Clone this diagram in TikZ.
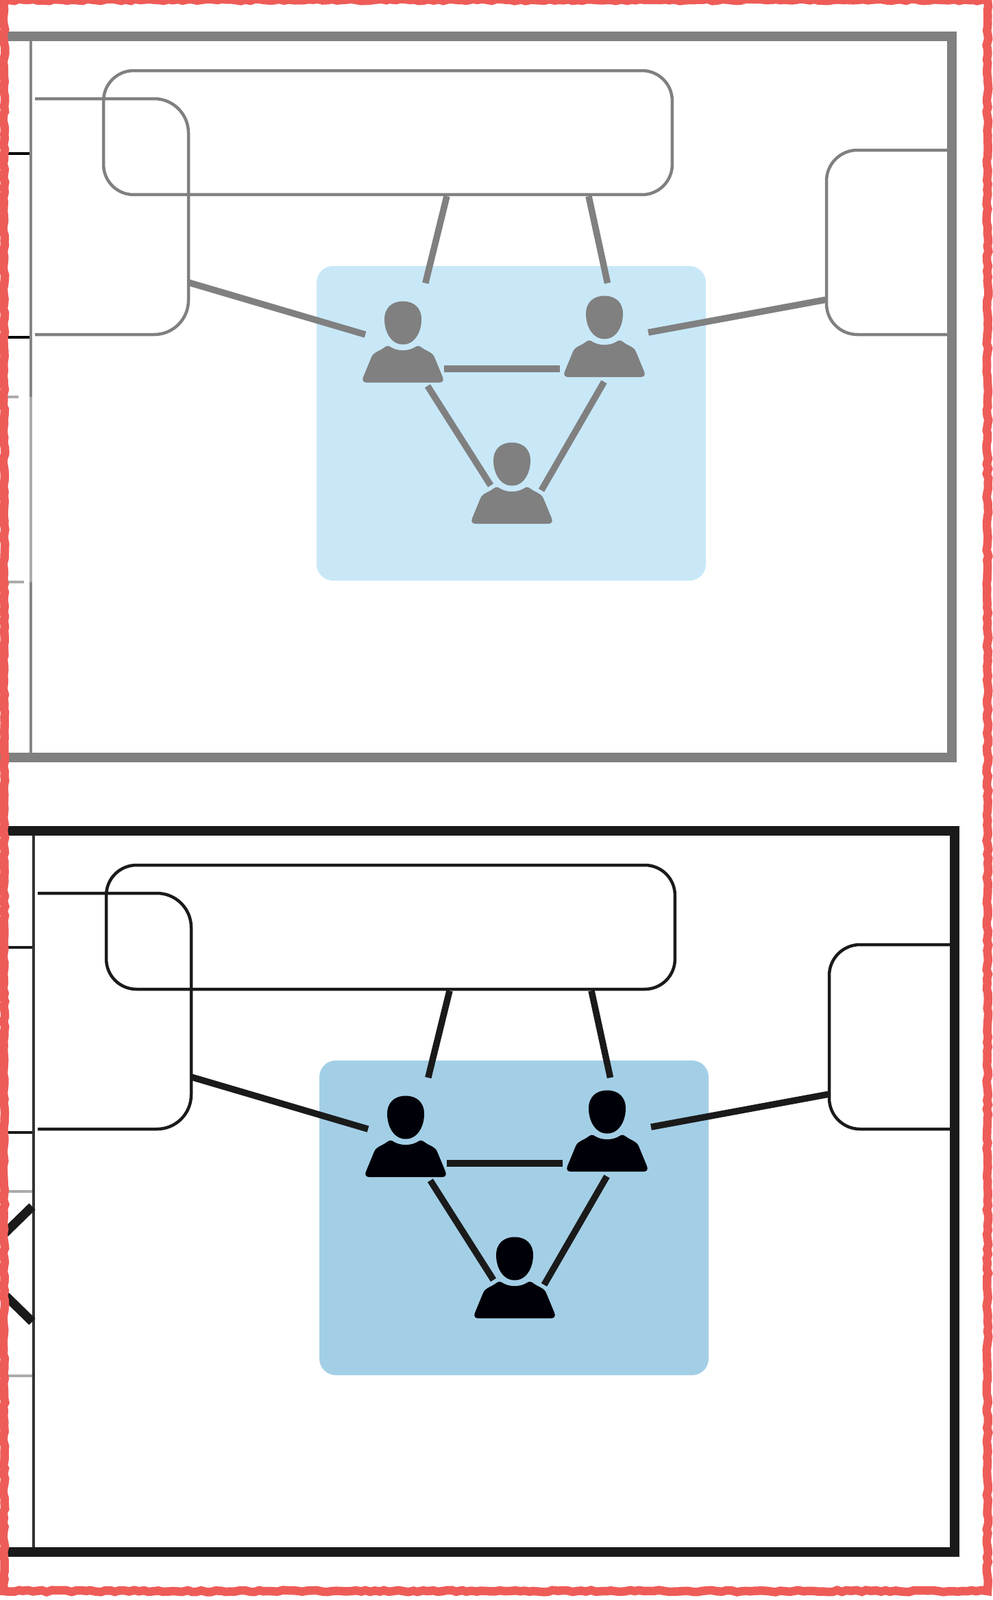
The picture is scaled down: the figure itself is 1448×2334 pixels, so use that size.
\documentclass[tikz,border=0pt]{standalone}
\usepackage{xcolor}
\usetikzlibrary{calc,decorations.pathmorphing}
\definecolor{inkgray}{HTML}{808080}
\definecolor{inkblack}{HTML}{1A1A1A}
\definecolor{wallgray}{HTML}{858585}
\definecolor{wallblack}{HTML}{333333}
\definecolor{icongray}{HTML}{808080}
\definecolor{iconblack}{HTML}{000008}
\definecolor{paleblue}{HTML}{C8E8F8}
\definecolor{midblue}{HTML}{A3CFE6}
\definecolor{fadegray}{HTML}{ABABAB}
\definecolor{sketchred}{HTML}{EE5C58}

\begin{document}
\begin{tikzpicture}[
    x=0.02cm, y=-0.02cm,
    thin line/.style={line width=0.09cm},
    link/.style={line width=0.19cm},
    frame/.style={line width=0.28cm},
    roombox/.style={rectangle, draw, thin line, rounded corners=0.88cm,
                    minimum width=16.6cm, minimum height=3.62cm, inner sep=0pt},
    spot/.style={rectangle, inner sep=0pt, outer sep=0pt},
    person/.pic={
        \path[pic actions] (0,-31.5) .. controls (16,-31.5) and (27,-22) .. (27,-5)
            .. controls (27,12) and (18,31.5) .. (0,31.5)
            .. controls (-18,31.5) and (-27,12) .. (-27,-5)
            .. controls (-27,-22) and (-16,-31.5) .. (0,-31.5) -- cycle;
        \path[pic actions] (-53,87) .. controls (-58,87) and (-60,84) .. (-58,79)
            -- (-46,50) .. controls (-44,45) and (-40,43) .. (-32,39)
            .. controls (-28,37) and (-24,32) .. (-20,34)
            .. controls (-14,38) and (-8,40) .. (0,40)
            .. controls (8,40) and (14,38) .. (20,34)
            .. controls (24,32) and (28,37) .. (32,39)
            .. controls (40,43) and (44,45) .. (46,50)
            -- (58,79) .. controls (60,84) and (58,87) .. (53,87) -- cycle;
    }
]
\useasboundingbox (0,0) rectangle (1448,2334);
\fill[white] (0,0) rectangle (1448,2334);

% the same room twice, faded on top
\foreach \p/\ox/\oy/\ink/\wall/\icon/\floor in {
    t/0/0/inkgray/wallgray/icongray/paleblue,
    b/4/1159/inkblack/wallblack/iconblack/midblue} {
\begin{scope}[shift={(\ox,\oy)}]
\fill[\floor, rounded corners=0.48cm] (462,388) rectangle (1030,847);
\draw[frame, draw=\ink] (0,53) -- (1389,53) -- (1389,1105) -- (0,1105);
\draw[thin line, draw=\wall] (45,60) -- (45,1098);
\draw[thin line, draw=\ink, rounded corners=1cm] (51,144) -- (275,144) -- (275,488) -- (51,488);
\draw[thin line, draw=\ink, rounded corners=0.9cm] (1383,219) -- (1206,219) -- (1206,488) -- (1383,488);
\node[roombox, draw=\ink] (\p-hall) at (566,193.5) {};
\coordinate (\p-left) at (275,412);
\coordinate (\p-right) at (1206,437);
\node[spot, minimum width=2.3cm, minimum height=3cm] (\p-one) at (590.5,488) {};
\node[spot, minimum width=2.58cm, minimum height=2.88cm] (\p-two) at (881.5,485) {};
\node[spot, minimum width=1.48cm, minimum height=0.8cm] (\p-three) at (753,710) {};
\pic[fill=\icon] at (588,471) {person};
\pic[fill=\icon] at (882,463) {person};
\pic[fill=\icon] at (747,677) {person};
\draw[link, draw=\ink] (\p-left) -- (\p-one.west);
\draw[link, draw=\ink] (\p-right) -- (\p-two.east);
\draw[link, draw=\ink] ($(\p-hall.south)+(86,0)$) -- (\p-one.68.5);
\draw[link, draw=\ink] ($(\p-hall.south)+(293,0)$) -- (\p-two.86.4);
\draw[link, draw=\ink] (\p-one.-41) -- (\p-one.-41 -| \p-two.west);
\draw[link, draw=\ink] (\p-one.-66) -- (\p-three.177);
\draw[link, draw=\ink] (\p-two.south) -- (\p-three.-8);
\end{scope}
}

% stubs on the left wall
\draw[thin line, draw=fadegray] (45,579) -- (45,849);
\draw[thin line, draw=black] (8,224) -- (43,224);
\draw[thin line, draw=black] (8,492) -- (43,492);
\draw[thin line, draw=fadegray] (8,579) -- (27,579);
\draw[thin line, draw=fadegray] (8,849) -- (35,849);
\draw[thin line, draw=inkblack] (8,1382) -- (47,1382);
\draw[thin line, draw=inkblack] (8,1652) -- (47,1652);
\draw[thin line, draw=fadegray] (8,1738) -- (47,1738);
\draw[thin line, draw=fadegray] (8,2007) -- (47,2007);
\draw[line width=0.26cm, draw=inkblack] (47,1760) -- (6,1800);
\draw[line width=0.26cm, draw=inkblack] (47,1928) -- (6,1888);

\draw[line width=0.25cm, draw=sketchred, decorate,
      decoration={random steps, segment length=4pt, amplitude=0.8pt}]
    (6,0) rectangle (1441,2321);
\end{tikzpicture}
\end{document}
